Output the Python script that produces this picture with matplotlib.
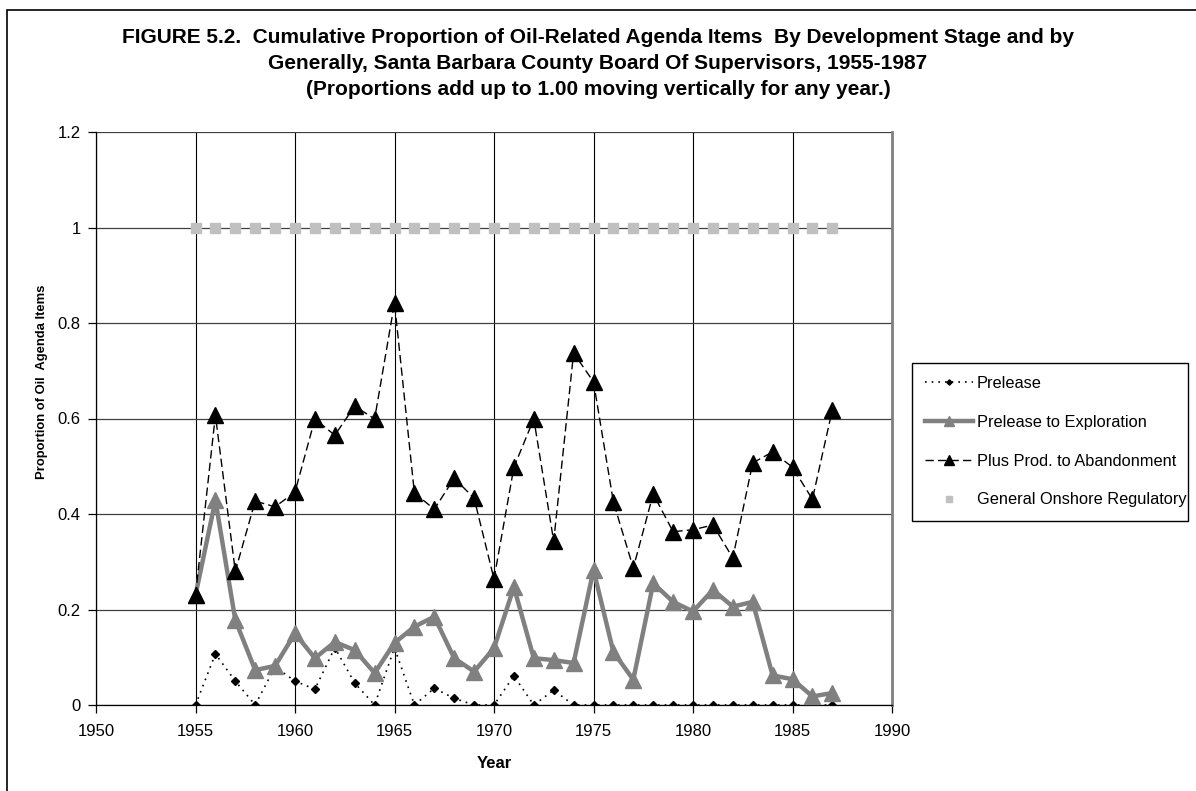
import matplotlib.pyplot as plt
from matplotlib.patches import Rectangle

plt.rcParams["font.family"] = ["Liberation Sans", "DejaVu Sans"]

years = list(range(1955, 1988))

prelease = [0.0, 0.107, 0.05, 0.0, 0.08, 0.05, 0.033, 0.12, 0.046, 0.0,
            0.12, 0.0, 0.035, 0.014, 0.0, 0.0, 0.061, 0.0, 0.031, 0.0,
            0.0, 0.0, 0.0, 0.0, 0.0, 0.0, 0.0, 0.0, 0.0, 0.0,
            0.0, 0.0, 0.0]

prelease_to_expl = [0.23, 0.429, 0.178, 0.073, 0.082, 0.15, 0.098, 0.132, 0.115, 0.067,
                    0.13, 0.164, 0.185, 0.098, 0.07, 0.119, 0.247, 0.098, 0.094, 0.088,
                    0.283, 0.111, 0.053, 0.255, 0.216, 0.196, 0.241, 0.206, 0.216, 0.062,
                    0.054, 0.018, 0.025]

plus_prod = [0.23, 0.607, 0.28, 0.427, 0.415, 0.446, 0.599, 0.565, 0.626, 0.599,
             0.842, 0.444, 0.41, 0.475, 0.433, 0.264, 0.498, 0.599, 0.343, 0.737,
             0.677, 0.425, 0.287, 0.442, 0.363, 0.367, 0.377, 0.308, 0.507, 0.53,
             0.498, 0.431, 0.618]

general_onshore = [1.0] * len(years)

x_ticks = [1950, 1955, 1960, 1965, 1970, 1975, 1980, 1985, 1990]
y_ticks = [0, 0.2, 0.4, 0.6, 0.8, 1.0, 1.2]
y_tick_labels = ["0", "0.2", "0.4", "0.6", "0.8", "1", "1.2"]

title_lines = [
    "FIGURE 5.2.  Cumulative Proportion of Oil-Related Agenda Items  By Development Stage and by",
    "Generally, Santa Barbara County Board Of Supervisors, 1955-1987",
    "(Proportions add up to 1.00 moving vertically for any year.)",
]

W, H = 1196, 791
fig = plt.figure(figsize=(W / 100, H / 100), dpi=100)
ax = fig.add_axes([96 / W, 1 - 705 / H, (892 - 96) / W, (705 - 132) / H])

# outer chart border (runs off the right and bottom of the image)
fig.patches.append(Rectangle((7 / W, -0.05), 1.1, 1 - 10 / H + 0.05,
                             transform=fig.transFigure, fill=False,
                             edgecolor="black", linewidth=1.2))

ax.grid(axis="y", color="#404040", linewidth=0.9, zorder=0)
ax.grid(axis="x", color="black", linewidth=0.8, zorder=0)

ax.plot(years, prelease, linestyle=(0, (1, 3)), color="black", linewidth=1.2,
        marker="D", markersize=4.5, markeredgecolor="black", label="Prelease", zorder=3)
ax.plot(years, prelease_to_expl, linestyle="-", color="#808080", linewidth=3.2,
        marker="^", markersize=12, markeredgecolor="#808080",
        label="Prelease to Exploration", zorder=4)
ax.plot(years, plus_prod, linestyle=(0, (6, 3)), color="black", linewidth=1.0,
        marker="^", markersize=12, label="Plus Prod. to Abandonment", zorder=5)
ax.plot(years, general_onshore, linestyle="none", color="#c0c0c0",
        marker="s", markersize=7.5, label="General Onshore Regulatory", zorder=5)

ax.set_xlim(1950, 1990)
ax.set_ylim(0, 1.2)
ax.set_xticks(x_ticks)
ax.set_yticks(y_ticks)
ax.set_yticklabels(y_tick_labels)
ax.tick_params(axis="both", direction="out", length=6, width=0.9, labelsize=12)
ax.tick_params(axis="x", pad=8)
ax.tick_params(axis="y", pad=5)

ax.spines["top"].set_visible(False)
ax.spines["right"].set_color("#808080")
ax.spines["right"].set_linewidth(2)
ax.spines["left"].set_linewidth(0.9)
ax.spines["bottom"].set_linewidth(0.9)

ax.set_xlabel("Year", fontsize=12, fontweight="bold", labelpad=12)
fig.text(42 / W, 1 - 382 / H, "Proportion of Oil  Agenda Items", rotation=90,
         fontsize=9.4, fontweight="bold", ha="center", va="center")

for line, base_y in zip(title_lines, [43, 69, 95]):
    fig.text(0.5, 1 - base_y / H, line, ha="center", va="baseline",
             fontsize=15, fontweight="bold")

leg = ax.legend(loc="upper left", bbox_to_anchor=(912 / W, 1 - 522 / H, 276 / W, 159 / H),
                bbox_transform=fig.transFigure, mode="expand", fontsize=11.8,
                frameon=True, fancybox=False, edgecolor="black", framealpha=1,
                handlelength=2.9, handletextpad=0.25, labelspacing=1.45,
                borderpad=0.8, markerscale=0.6, borderaxespad=0)
leg.get_frame().set_linewidth(1.0)

fig.savefig("out.png", dpi=100)
